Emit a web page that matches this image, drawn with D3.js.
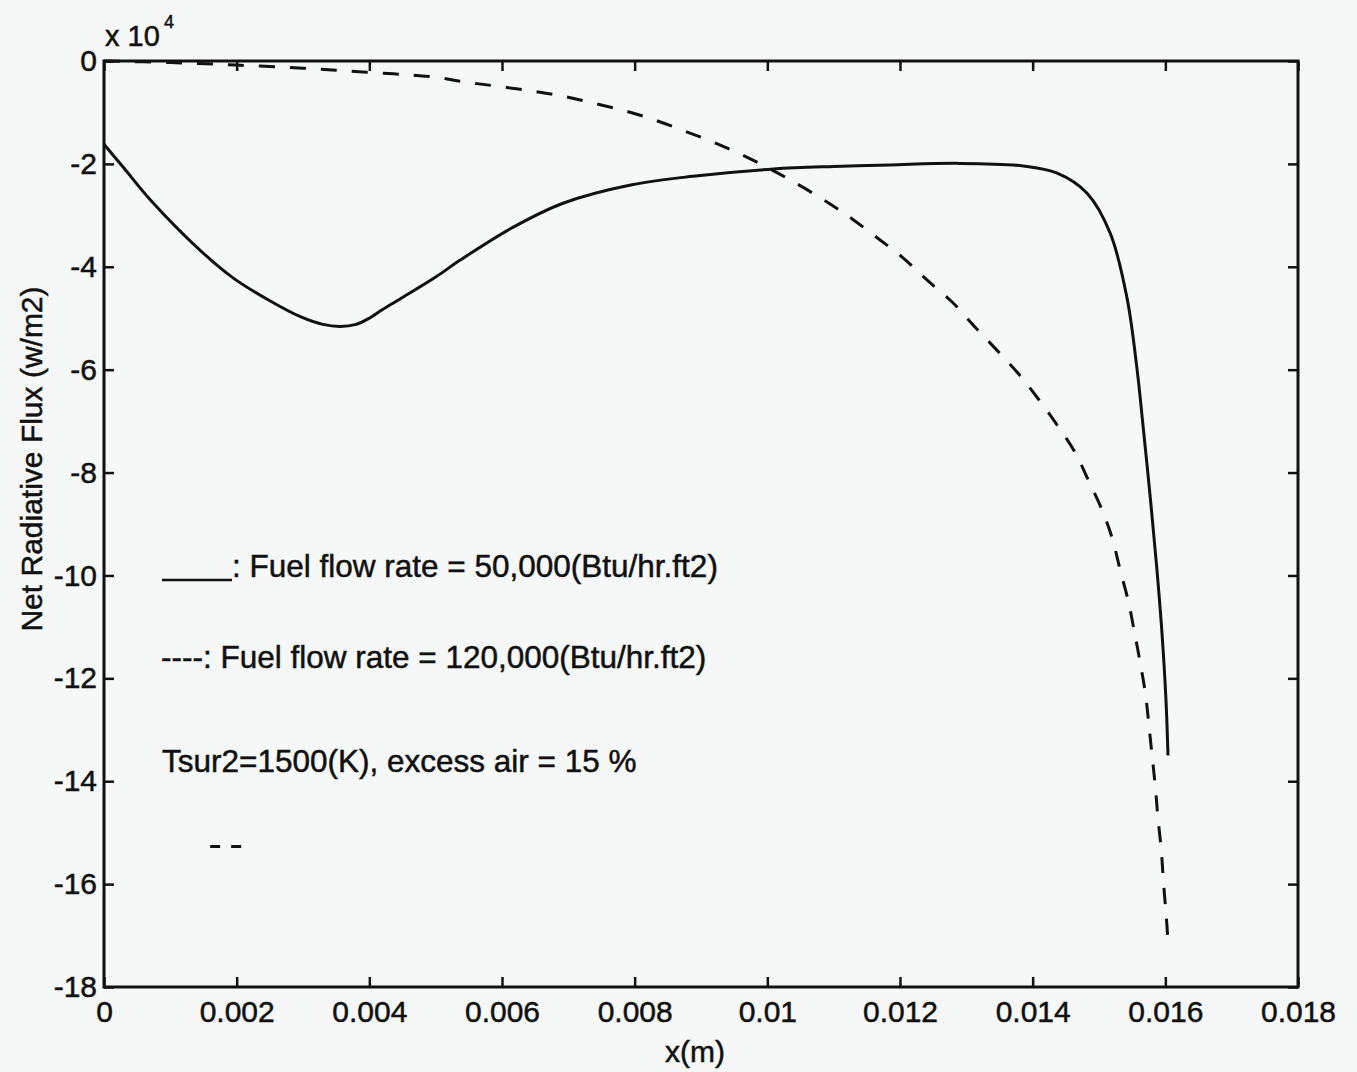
<!DOCTYPE html>
<html>
<head>
<meta charset="utf-8">
<script src="https://cdn.jsdelivr.net/npm/d3@7"></script>
<style>
  html, body { margin: 0; padding: 0; background: #f6f8f7; }
  svg { display: block; }
  text { font-family: "Liberation Sans", Arial, Helvetica, sans-serif; fill: #111; stroke: #111; stroke-width: 0.5px; }
</style>
</head>
<body>
<svg id="chart" width="1357" height="1072"></svg>
<script>
// Distance across the burner bed (m) and net radiative flux (x 10^4 W/m2)
const xSolid = [0, 0.0003, 0.0007, 0.00145, 0.00195, 0.0025, 0.00296, 0.0033, 0.00356, 0.0038, 0.0040, 0.0042, 0.00447,
  0.0050, 0.00537, 0.00617, 0.00693, 0.00794, 0.00888, 0.01009, 0.01100, 0.01185, 0.01286, 0.01386, 0.01437,
  0.01482, 0.01517, 0.01542, 0.01557, 0.01566, 0.01577, 0.01587, 0.01595, 0.01601, 0.01604];
const fluxSolid = [-1.62, -2.08, -2.70, -3.68, -4.22, -4.66, -4.97, -5.12, -5.16, -5.12, -5.00, -4.83, -4.62,
  -4.20, -3.87, -3.23, -2.76, -2.41, -2.24, -2.10, -2.05, -2.02, -1.99, -2.04, -2.18,
  -2.57, -3.35, -4.59, -5.95, -7.04, -8.45, -9.84, -11.13, -12.43, -13.5];

const xDashed = [0, 0.001, 0.002, 0.003, 0.0035, 0.00436, 0.00497, 0.00545, 0.00593, 0.00643, 0.00691, 0.00738,
  0.00786, 0.00831, 0.00875, 0.00919, 0.00963, 0.0103, 0.0109, 0.0113, 0.0117, 0.01205, 0.01241, 0.01279,
  0.01313, 0.01346, 0.01378, 0.01408, 0.01437, 0.01464, 0.01484, 0.01505, 0.0152, 0.01532, 0.01544, 0.01553,
  0.01562, 0.0157, 0.01575, 0.0158, 0.01585, 0.01589, 0.01594, 0.01597, 0.01601, 0.01604];
const fluxDashed = [0, -0.03, -0.08, -0.14, -0.18, -0.25, -0.31, -0.41, -0.49, -0.58, -0.68, -0.82,
  -0.97, -1.15, -1.36, -1.58, -1.83, -2.28, -2.74, -3.09, -3.48, -3.83, -4.26, -4.69,
  -5.17, -5.62, -6.07, -6.56, -7.08, -7.61, -8.15, -8.74, -9.28, -9.9, -10.49, -11.07,
  -11.69, -12.3, -12.88, -13.5, -14.12, -14.73, -15.35, -15.93, -16.56, -17.1];

const xTicks = [0, 0.002, 0.004, 0.006, 0.008, 0.010, 0.012, 0.014, 0.016, 0.018];
const xTickLabels = ["0", "0.002", "0.004", "0.006", "0.008", "0.01", "0.012", "0.014", "0.016", "0.018"];
const yTicks = [-18, -16, -14, -12, -10, -8, -6, -4, -2, 0];
const yTickLabels = ["-18", "-16", "-14", "-12", "-10", "-8", "-6", "-4", "-2", "0"];

const notes = [
  ": Fuel flow rate = 50,000(Btu/hr.ft2)",
  "----: Fuel flow rate = 120,000(Btu/hr.ft2)",
  "Tsur2=1500(K), excess air = 15 %"
];

const svg = d3.select("#chart");
const plotLeft = 104, plotRight = 1298, plotTop = 61, plotBottom = 987;

const x = d3.scaleLinear().domain([0, 0.018]).range([plotLeft, plotRight]);
const y = d3.scaleLinear().domain([-18, 0]).range([plotBottom, plotTop]);

const fontSize = 30;
const noteSize = 31.5;

// Axes with inward ticks on all four sides
const gx = svg.append("g").attr("transform", `translate(0,${plotBottom})`)
  .call(d3.axisBottom(x).tickValues(xTicks).tickSize(-10).tickPadding(14)
    .tickFormat((d, i) => xTickLabels[i]));
const gxt = svg.append("g").attr("transform", `translate(0,${plotTop})`)
  .call(d3.axisTop(x).tickValues(xTicks).tickSize(-10).tickFormat(""));
const gy = svg.append("g").attr("transform", `translate(${plotLeft},0)`)
  .call(d3.axisLeft(y).tickValues(yTicks).tickSize(-10).tickPadding(7)
    .tickFormat((d, i) => yTickLabels[i]));
const gyr = svg.append("g").attr("transform", `translate(${plotRight},0)`)
  .call(d3.axisRight(y).tickValues(yTicks).tickSize(-10).tickFormat(""));

[gx, gxt, gy, gyr].forEach(g => {
  g.select(".domain").remove();
  g.selectAll(".tick line").attr("stroke", "#111").attr("stroke-width", 2.5);
  g.selectAll(".tick text").attr("font-size", fontSize)
    .attr("font-family", "'Liberation Sans', Arial, sans-serif").attr("fill", "#111");
});

// Plot frame
svg.append("rect")
  .attr("x", plotLeft).attr("y", plotTop)
  .attr("width", plotRight - plotLeft).attr("height", plotBottom - plotTop)
  .attr("fill", "none").attr("stroke", "#111").attr("stroke-width", 3);

// Curves (smooth interpolation through the sampled points)
const line = d3.line().x(d => x(d[0])).y(d => y(d[1])).curve(d3.curveCatmullRom.alpha(0.5));

svg.append("path")
  .datum(xSolid.map((v, i) => [v, fluxSolid[i]]))
  .attr("d", line)
  .attr("fill", "none").attr("stroke", "#111").attr("stroke-width", 3);

svg.append("path")
  .datum(xDashed.map((v, i) => [v, fluxDashed[i]]))
  .attr("d", line)
  .attr("fill", "none").attr("stroke", "#111").attr("stroke-width", 3)
  .attr("stroke-dasharray", "16,15");

// Axis multiplier
svg.append("text").attr("x", 105).attr("y", 46).attr("font-size", 29).text("x 10");
svg.append("text").attr("x", 164).attr("y", 28).attr("font-size", 18).text("4");

// Axis titles
svg.append("text")
  .attr("transform", `translate(42,${(plotTop + plotBottom) / 2 - 65}) rotate(-90)`)
  .attr("text-anchor", "middle").attr("font-size", fontSize)
  .text("Net Radiative Flux (w/m2)");

svg.append("text")
  .attr("x", (plotLeft + plotRight) / 2 - 6).attr("y", 1062)
  .attr("text-anchor", "middle").attr("font-size", fontSize)
  .text("x(m)");

// Annotations
svg.append("line")
  .attr("x1", 162).attr("x2", 232).attr("y1", 580).attr("y2", 580)
  .attr("stroke", "#111").attr("stroke-width", 2.5);
svg.append("text").attr("x", 232).attr("y", 577).attr("font-size", noteSize).text(notes[0]);
svg.append("text").attr("x", 161).attr("y", 668).attr("font-size", noteSize).text(notes[1]);
svg.append("text").attr("x", 162).attr("y", 772).attr("font-size", noteSize).text(notes[2]);

// Short dashed stroke in the lower-left of the plot
svg.append("line")
  .attr("x1", x(0.00160)).attr("x2", x(0.00207))
  .attr("y1", y(-15.27)).attr("y2", y(-15.27))
  .attr("stroke", "#111").attr("stroke-width", 3)
  .attr("stroke-dasharray", "10,11");
</script>
</body>
</html>
